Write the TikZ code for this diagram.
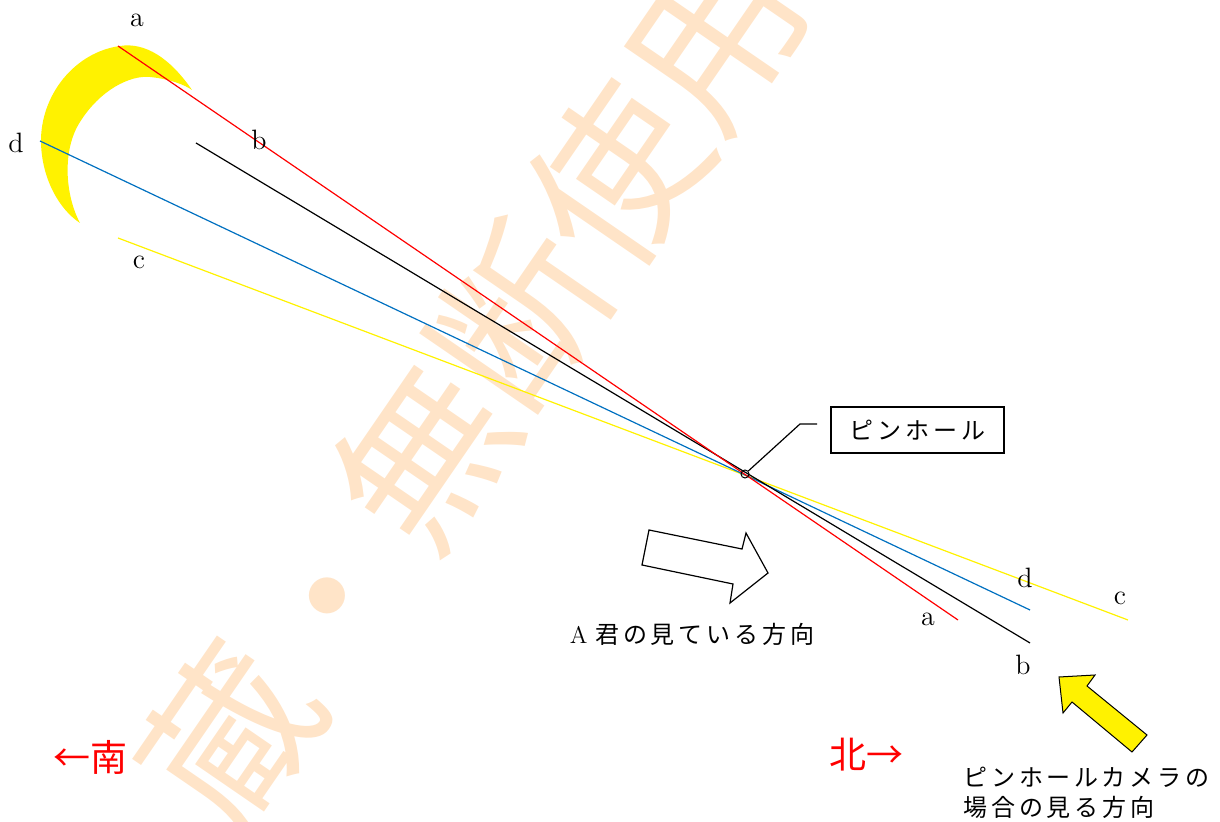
\documentclass[tikz,border=0pt]{standalone}
\usepackage{fontspec}
\newfontfamily\jp{Noto Sans CJK JP}
\newfontfamily\jpsp{Noto Sans CJK JP}[LetterSpace=16]
\definecolor{wmark}{RGB}{255,228,200}
\definecolor{rayblue}{RGB}{0,112,192}

\begin{document}
\begin{tikzpicture}[x=0.5pt,y=-0.5pt,
    lbl/.style={font=\fontsize{14}{16}\selectfont,inner sep=0pt},
    ray/.style={line width=0.6pt},
    jtext/.style={font=\jpsp\fontsize{12}{15}\selectfont,inner sep=0pt},
    dir/.style={text=red,inner sep=0pt,font=\jp\fontsize{18.5}{20}\selectfont}]
  \useasboundingbox (0,0) rectangle (1220,822);

  % watermark in the back
  \begin{scope}
    \clip (0,0) rectangle (1220,822);
    \node[text=wmark,rotate=55.5,inner sep=0pt,
      font=\jp\fontsize{85}{90}\selectfont] (wm) at (472,386) {蔵・無断使用};
  \end{scope}

  % crescent moon
  \fill[yellow] (192,90) .. controls (170,58) and (145,42) .. (120,46)
    .. controls (75,52) and (40,95) .. (41,143)
    .. controls (42,180) and (60,210) .. (80,223)
    .. controls (65,195) and (62,150) .. (80,122)
    .. controls (100,90) and (130,75) .. (150,77)
    .. controls (170,79) and (185,85) .. (192,90) -- cycle;

  % ray ends
  \coordinate (aS) at (118,46);   \coordinate (aN) at (958,620);
  \coordinate (bS) at (196,143);  \coordinate (bN) at (1030,643);
  \coordinate (dS) at (40,141);   \coordinate (dN) at (1030,610);
  \coordinate (cS) at (118,238);  \coordinate (cN) at (1128,620);

  \draw[ray,yellow] (cS) -- (cN);
  \draw[ray,rayblue] (dS) -- (dN);
  \draw[ray,black] (bS) -- (bN);
  \draw[ray,red] (aS) -- (aN);

  \node[lbl] (la1) at (137,20) {a};
  \node[lbl] (lb1) at (259,140) {b};
  \node[lbl] (ld1) at (16,143) {d};
  \node[lbl] (lc1) at (139,262) {c};
  \node[lbl] (la2) at (928,619) {a};
  \node[lbl] (lb2) at (1023,665) {b};
  \node[lbl] (ld2) at (1025,578) {d};
  \node[lbl] (lc2) at (1120,598) {c};

  % pinhole and its label
  \node[circle,draw,line width=0.5pt,inner sep=0pt,minimum size=4pt] (ph) at (745,474) {};
  \node[draw,line width=0.6pt,jtext,minimum width=86.5pt,minimum height=23pt] (phlbl) at (917.5,430) {ピンホール};
  \coordinate (knee) at (800,424);
  \coordinate (tail) at (817,424);
  \draw[line width=0.6pt] (ph) -- (knee) -- (tail);

  % direction arrows
  \draw[line width=0.6pt,fill=white] (642,565) -- (649,530) -- (742,549) -- (746,533)
    -- (768,573) -- (730,603) -- (733,584) -- cycle;
  \node[jtext] (seeA) at (692,634) {\rmfamily A\ \jpsp 君の見ている方向};

  \draw[line width=0.5pt,fill=yellow] (1059,677) -- (1095,675) -- (1087,686) -- (1147,735)
    -- (1132,752) -- (1072,702) -- (1063,713) -- cycle;
  \node[jtext,anchor=north west,align=left] (seeCam) at (963,767) {ピンホールカメラの\\場合の見る方向};

  % south / north
  \node[dir] (south) at (91,757) {←南};
  \node[dir] (north) at (866,755) {北→};
\end{tikzpicture}
\end{document}
